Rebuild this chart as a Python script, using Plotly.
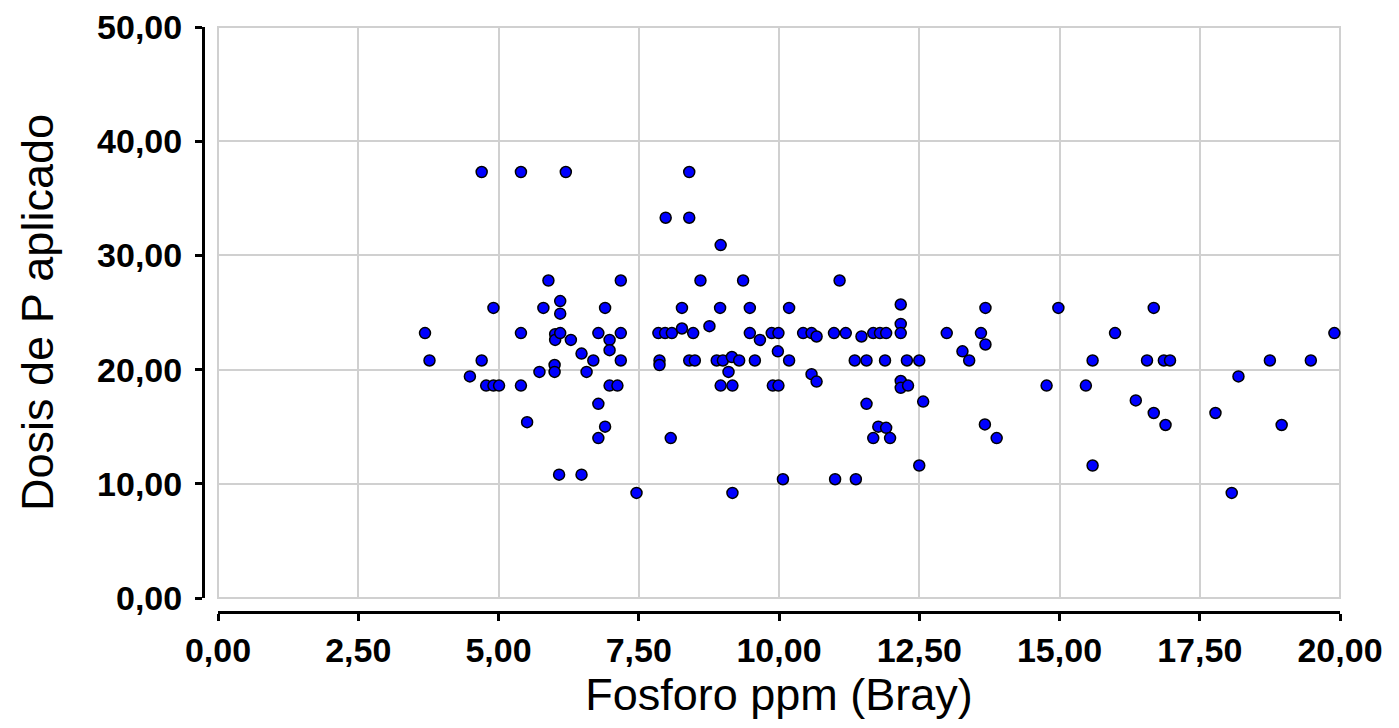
import plotly.graph_objects as go

# Fosforo (ppm, Bray) measured per plot
fosforo_ppm = [
    3.69, 3.77, 4.49, 4.70, 4.70, 4.78, 4.91, 5.01, 4.91, 5.40,
    5.40, 5.40, 5.51, 5.73, 5.80, 5.89, 6.00, 6.00, 6.01, 6.01,
    6.10, 6.10, 6.10, 6.08, 6.20, 6.29, 6.48, 6.48, 6.57, 6.69,
    6.78, 6.78, 6.78, 6.90, 6.90, 6.98, 6.98, 6.98, 7.12, 7.18,
    7.18, 7.18, 7.46, 7.85, 7.97, 8.09, 7.87, 7.87, 7.98, 8.07,
    8.27, 8.27, 8.40, 8.40, 8.40, 8.50, 8.47, 8.60, 8.76, 8.89,
    8.95, 8.96, 8.96, 9.00, 9.10, 9.16, 9.17, 9.17, 9.29, 9.36,
    9.48, 9.48, 9.57, 9.66, 9.87, 9.99, 9.98, 9.89, 9.99, 10.07,
    10.18, 10.18, 10.43, 10.58, 10.67, 10.58, 10.67, 10.98, 11.08, 11.00,
    11.19, 11.35, 11.37, 11.47, 11.56, 11.56, 11.68, 11.80, 11.91, 11.68,
    11.77, 11.89, 11.91, 11.98, 12.17, 12.17, 12.17, 12.17, 12.17, 12.30,
    12.28, 12.50, 12.57, 12.50, 12.99, 13.27, 13.39, 13.60, 13.68, 13.68,
    13.67, 13.88, 14.77, 14.98, 15.47, 15.59, 15.59, 15.99, 16.36, 16.56,
    16.68, 16.68, 16.86, 16.97, 16.89, 17.78, 18.07, 18.19, 18.75, 18.96,
    19.48, 19.90,
]

# Dosis de P aplicada for each plot
dosis_p = [
    23.2, 20.8, 19.4, 37.3, 20.8, 18.6, 18.6, 18.6, 25.4, 37.3,
    23.2, 18.6, 15.4, 19.8, 25.4, 27.8, 20.4, 19.8, 23.1, 22.6,
    26.0, 24.9, 23.2, 10.8, 37.3, 22.6, 21.4, 10.8, 19.8, 20.8,
    23.2, 17.0, 14.0, 25.4, 15.0, 22.6, 21.7, 18.6, 18.6, 27.8,
    23.2, 20.8, 9.2, 23.2, 23.2, 23.2, 20.8, 20.4, 33.3, 14.0,
    25.4, 23.6, 37.3, 33.3, 20.8, 20.8, 23.2, 27.8, 23.8, 20.8,
    25.4, 30.9, 18.6, 20.8, 19.8, 21.1, 18.6, 9.2, 20.8, 27.8,
    25.4, 23.2, 20.8, 22.6, 23.2, 23.2, 21.6, 18.6, 18.6, 10.4,
    25.4, 20.8, 23.2, 23.2, 22.9, 19.6, 18.95, 23.2, 27.8, 10.4,
    23.2, 20.8, 10.4, 22.9, 20.8, 17.0, 23.2, 23.2, 23.2, 14.0,
    15.0, 20.8, 14.9, 14.0, 25.7, 24.0, 23.2, 19.0, 18.4, 18.6,
    20.8, 20.8, 17.2, 11.6, 23.2, 21.6, 20.8, 23.2, 22.2, 25.4,
    15.2, 14.0, 18.6, 25.4, 18.6, 20.8, 11.6, 23.2, 17.3, 20.8,
    25.4, 16.2, 20.8, 20.8, 15.15, 16.2, 9.2, 19.4, 20.8, 15.15,
    20.8, 23.2,
]

x_ticks = [0, 2.5, 5, 7.5, 10, 12.5, 15, 17.5, 20]
y_ticks = [0, 10, 20, 30, 40, 50]

W, H = 1399, 728
plot_left, plot_right = 218, 1340
plot_top, plot_bottom = 27, 598
yline_x = 203
xline_y = 612

fig = go.Figure()
fig.add_trace(go.Scatter(
    x=fosforo_ppm, y=dosis_p, mode="markers",
    marker=dict(color="#0000FF", size=11, line=dict(color="black", width=1.5)),
    cliponaxis=False, showlegend=False,
))

tick_font = dict(family="Liberation Sans, Arial, sans-serif", size=34, color="black", weight="bold")
title_font = dict(family="Liberation Sans, Arial, sans-serif", size=45, color="black")

fig.update_layout(
    width=W, height=H,
    margin=dict(l=0, r=0, t=0, b=0, autoexpand=False),
    paper_bgcolor="white", plot_bgcolor="white",
    separators=",.",
    xaxis=dict(
        domain=[plot_left / W, plot_right / W],
        range=[0, 20], tickvals=x_ticks, tickformat=".2f",
        anchor="free", position=(H - xline_y) / H,
        automargin=False,
        showline=True, linecolor="black", linewidth=3,
        ticks="outside", ticklen=7, tickwidth=3, tickcolor="black",
        ticklabelstandoff=0,
        showgrid=True, gridcolor="#d0d0d0", gridwidth=2, zeroline=False,
        tickfont=tick_font,
        title=dict(text="Fosforo ppm (Bray)", font=title_font, standoff=6),
    ),
    yaxis=dict(
        domain=[(H - plot_bottom) / H, (H - plot_top) / H],
        range=[0, 50], tickvals=y_ticks, tickformat=".2f",
        anchor="free", position=yline_x / W,
        automargin=False,
        showline=True, linecolor="black", linewidth=3,
        ticks="outside", ticklen=7, tickwidth=3, tickcolor="black",
        ticklabelstandoff=6,
        showgrid=True, gridcolor="#d0d0d0", gridwidth=2, zeroline=False,
        tickfont=tick_font,
        title=dict(text="Dosis de P aplicado", font=title_font, standoff=28),
    ),
    shapes=[dict(
        type="rect", xref="x domain", yref="y domain", x0=0, x1=1, y0=0, y1=1,
        line=dict(color="#d0d0d0", width=2), layer="below",
    )],
)

fig.write_html("out.html")
